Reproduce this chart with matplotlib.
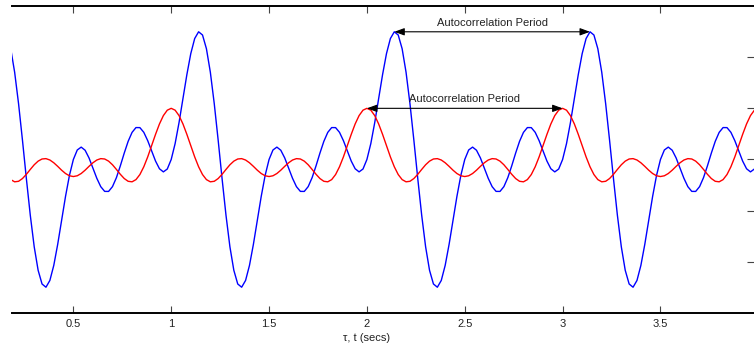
import numpy as np
import matplotlib
matplotlib.use("Agg")
import matplotlib.pyplot as plt

plt.rcParams['font.family'] = ['Liberation Sans', 'DejaVu Sans']

# one period (1 s) of each trace, read every 0.02 s; the traces repeat each second
step = 0.02
n_periods = 4
blue_period = [
    0.000, 0.311, 0.721, 1.189, 1.658, 2.069, 2.364, 2.496, 2.433, 2.165,
    1.706, 1.091, 0.376, -0.376, -1.091, -1.706, -2.165, -2.433, -2.496, -2.364,
    -2.069, -1.658, -1.189, -0.721, -0.311, 0.000, 0.186, 0.242, 0.181, 0.031,
    -0.167, -0.368, -0.531, -0.623, -0.624, -0.530, -0.355, -0.125, 0.125, 0.355,
    0.530, 0.624, 0.623, 0.531, 0.368, 0.167, -0.031, -0.181, -0.242, -0.186,
]
red_period = [
    1.000, 0.964, 0.858, 0.695, 0.492, 0.270, 0.051, -0.142, -0.294, -0.393,
    -0.436, -0.426, -0.372, -0.289, -0.194, -0.103, -0.032, 0.010, 0.017, -0.010,
    -0.064, -0.134, -0.209, -0.274, -0.318, -0.333, -0.318, -0.274, -0.209, -0.134,
    -0.064, -0.010, 0.017, 0.010, -0.032, -0.103, -0.194, -0.289, -0.372, -0.426,
    -0.436, -0.393, -0.294, -0.142, 0.051, 0.270, 0.492, 0.695, 0.858, 0.964,
]

tick_pos = [0.5, 1, 1.5, 2, 2.5, 3, 3.5]
tick_labels = ['0.5', '1', '1.5', '2', '2.5', '3', '3.5']
ytick_pos = [-2, -1, 0, 1, 2]
period_label = 'Autocorrelation Period'
x_label = '\u03c4, t (secs)'

t = np.arange(n_periods * len(blue_period) + 1) * step
blue = np.append(np.tile(blue_period, n_periods), blue_period[0])
red = np.append(np.tile(red_period, n_periods), red_period[0])

fig = plt.figure(figsize=(7.54, 3.45), dpi=100)
ax = fig.add_axes([12 / 754, 32 / 345, 742 / 754, 307 / 345])

ax.plot(t, blue, color='#0000ff', lw=1.0)
ax.plot(t, red, color='#ff0000', lw=1.0)

ax.set_xlim(0.1865, 3.978)
ax.set_ylim(-3, 3)

for side in ['left', 'right']:
    ax.spines[side].set_visible(False)
for side in ['top', 'bottom']:
    ax.spines[side].set_linewidth(1.4)
    ax.spines[side].set_color('black')

ax.set_xticks(tick_pos)
ax.set_xticklabels(tick_labels)
ax.tick_params(axis='x', direction='in', length=5, width=0.8, top=True,
               labelsize=8, pad=4, color='#444444', labelcolor='#222222')
ax.yaxis.tick_right()
ax.set_yticks(ytick_pos)
ax.tick_params(axis='y', direction='in', length=5, width=0.8, left=False,
               labelright=False, color='#444444')

ax.set_xlabel(x_label, fontsize=8, color='#222222')
ax.xaxis.set_label_coords((367 - 12) / 742, -0.065)
ax.xaxis.label.set_va('top')

# period arrows between successive peaks of each trace
for series, period in [(blue, blue_period), (red, red_period)]:
    i_peak = int(np.argmax(period))
    t0 = 2 + i_peak * step
    y = max(period)
    ax.annotate('', xy=(t0 + 1, y), xytext=(t0, y),
                arrowprops=dict(arrowstyle='<|-|>,head_length=0.6,head_width=0.22',
                                color='black', lw=0.8, shrinkA=0, shrinkB=0))
    ax.text(t0 + 0.5, y + 0.18, period_label, ha='center', va='center',
            fontsize=8, color='#222222')

fig.savefig('out.png', dpi=100)
